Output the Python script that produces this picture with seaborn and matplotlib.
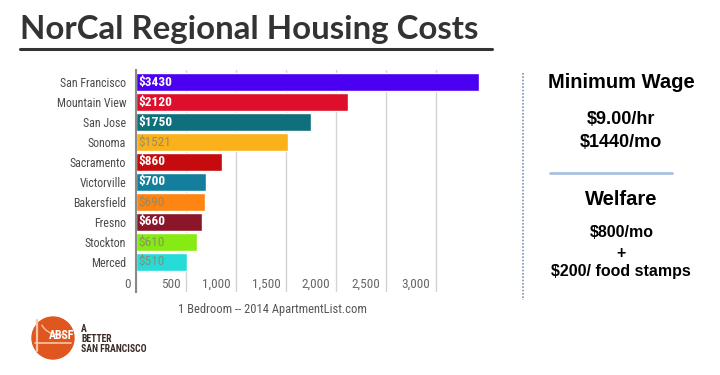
import matplotlib
matplotlib.use("Agg")
import matplotlib.pyplot as plt
import matplotlib.transforms as mtransforms
from matplotlib import font_manager
from matplotlib.patches import Circle, Arc
import seaborn as sns
import pandas as pd

cities = ["San Francisco", "Mountain View", "San Jose", "Sonoma", "Sacramento",
          "Victorville", "Bakersfield", "Fresno", "Stockton", "Merced"]
rents = [3430, 2120, 1750, 1521, 860, 700, 690, 660, 610, 510]
bar_colors = ["#4b00f2", "#de0f2b", "#0f6f7d", "#fbb11c", "#c50b0d",
              "#137f9c", "#ff8512", "#8c1629", "#86ea13", "#26dcd8"]
light_bars = ["Sonoma", "Bakersfield", "Stockton", "Merced"]
x_ticks = [0, 500, 1000, 1500, 2000, 2500, 3000]
x_ticklabels = ["0", "500", "1,000", "1,500", "2,000", "2,500", "3,000"]
source_note = "1 Bedroom -- 2014 ApartmentList.com"

wage_lines = ["$9.00/hr", "$1440/mo"]
welfare_lines = ["$800/mo", "+", "$200/ food stamps"]

# look for a condensed face for the chart labels
names = sorted({f.name for f in font_manager.fontManager.ttflist})
narrow = None
narrow_stretch = "normal"
for cand in ["Liberation Sans Narrow", "Roboto Condensed", "Open Sans Condensed"]:
    if cand in names:
        narrow = cand
        break
if narrow is None:
    cond = [f for f in font_manager.fontManager.ttflist
            if f.name == "DejaVu Sans" and f.stretch in ("condensed", "semi-condensed")]
    if cond:
        narrow, narrow_stretch = "DejaVu Sans", "condensed"
    else:
        narrow = "Roboto" if "Roboto" in names else "DejaVu Sans"
sans = "Liberation Sans" if "Liberation Sans" in names else "DejaVu Sans"
title_font = "Lato" if "Lato" in names else "DejaVu Sans"

sns.set_style("white")
plt.rcParams["font.family"] = [narrow, "DejaVu Sans"]
plt.rcParams["font.stretch"] = narrow_stretch

df = pd.DataFrame({"city": cities, "rent": rents})

fig = plt.figure(figsize=(7.2, 3.75), dpi=100)
ax = fig.add_axes([0.189, 0.221, 0.486, 0.592])

sns.barplot(data=df, y="city", x="rent", hue="city", palette=dict(zip(cities, bar_colors)),
            order=cities, hue_order=cities, legend=False, width=0.88, saturation=1,
            orient="h", ax=ax)

ax.set_xlim(0, 3500)
ax.set_ylim(10.52, -0.6)
ax.set_xticks(x_ticks)
ax.set_xticklabels(x_ticklabels)
ax.grid(axis="x", color="#d4d4d4", linewidth=1)
ax.set_axisbelow(True)
for s in ["top", "right", "bottom"]:
    ax.spines[s].set_visible(False)
ax.spines["left"].set_color("#8a8a8a")
ax.spines["left"].set_linewidth(1.5)
ax.set_ylabel("")
ax.set_xlabel("")
ax.tick_params(axis="y", length=0, pad=7, labelsize=8.6, labelcolor="#4a4a4a")
ax.tick_params(axis="x", length=0, pad=-10.5, labelsize=9.5, labelcolor="#666666")
shift = mtransforms.ScaledTranslation(-4 / 72, 0, fig.dpi_scale_trans)
for lbl in ax.get_xticklabels():
    lbl.set_ha("right")
    lbl.set_transform(lbl.get_transform() + shift)

for patch, city, val in zip(ax.patches, cities, rents):
    light = city in light_bars
    ax.text(patch.get_x() + 18, patch.get_y() + patch.get_height() / 2, f"${val}",
            ha="left", va="center", fontsize=9.6,
            color="#8a8a6a" if light else "white",
            fontweight="normal" if light else "bold", alpha=0.9 if light else 1)

fig.text(0.379, 0.176, source_note, ha="center", va="center", fontsize=9, color="#555555")

# title and underline
fig.text(0.028, 0.922, "NorCal Regional Housing Costs", ha="left", va="center",
         fontsize=23.8, fontweight="bold", color="#333333", family=[title_font, "DejaVu Sans"],
         stretch="normal")
fig.add_artist(plt.Line2D([0.028, 0.683], [0.869, 0.869], color="#333333", linewidth=2.2))

# right panel
fig.add_artist(plt.Line2D([0.726, 0.726], [0.805, 0.2], color="#7d95b8", linewidth=1.2,
                          linestyle=(0, (1, 1))))
rp = [sans, "DejaVu Sans"]
fig.text(0.863, 0.781, "Minimum Wage", ha="center", va="center", fontsize=14.5,
         fontweight="bold", color="black", family=rp, stretch="normal")
fig.text(0.863, 0.68, wage_lines[0], ha="center", va="center", fontsize=13,
         fontweight="bold", color="black", family=rp, stretch="normal")
fig.text(0.863, 0.621, wage_lines[1], ha="center", va="center", fontsize=13,
         fontweight="bold", color="black", family=rp, stretch="normal")
fig.add_artist(plt.Line2D([0.764, 0.933], [0.539, 0.539], color="#a8c0dc", linewidth=2))
fig.text(0.863, 0.469, "Welfare", ha="center", va="center", fontsize=14.5,
         fontweight="bold", color="black", family=rp, stretch="normal")
fig.text(0.863, 0.379, welfare_lines[0], ha="center", va="center", fontsize=11.5,
         fontweight="bold", color="black", family=rp, stretch="normal")
fig.text(0.863, 0.325, welfare_lines[1], ha="center", va="center", fontsize=11.5,
         fontweight="bold", color="black", family=rp, stretch="normal")
fig.text(0.863, 0.277, welfare_lines[2], ha="center", va="center", fontsize=11.5,
         fontweight="bold", color="black", family=rp, stretch="normal")

# logo: orange disc with a simple bridge sketch
fig.add_artist(Circle((53, 375 - 338), 21, transform=None, color="#e0561f"))
fig.add_artist(plt.Line2D([0.051, 0.051], [0.065, 0.148], color="#f6c6a8", linewidth=1.6))
fig.add_artist(plt.Line2D([0.048, 0.098], [0.086, 0.086], color="#f6c6a8", linewidth=1.2))
fig.add_artist(Arc((60, 375 - 318), 40, 34, theta1=200, theta2=290, transform=None,
                   color="#f6c6a8", linewidth=1))
fig.text(0.085, 0.105, "ABSF", ha="center", va="center", fontsize=8.5, fontweight="bold",
         color="white")
fig.text(0.113, 0.097, "A\nBETTER\nSAN FRANCISCO", ha="left", va="center", fontsize=7,
         color="#3b2b25", linespacing=1.0, fontweight="bold")

fig.savefig("out.png", dpi=100, facecolor="white")
